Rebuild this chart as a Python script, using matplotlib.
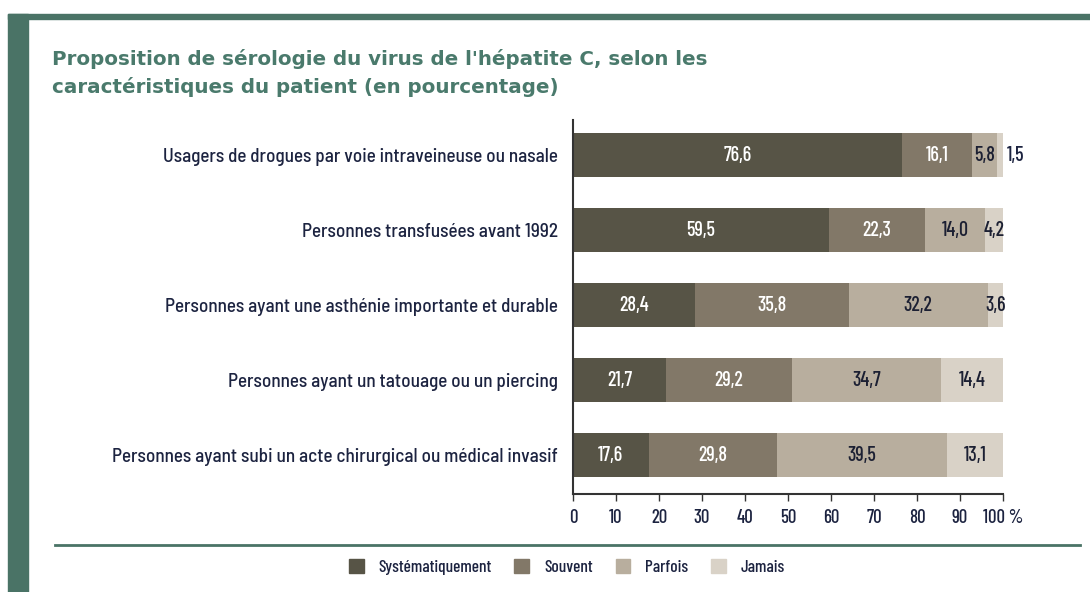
import matplotlib.pyplot as plt
import numpy as np
from matplotlib.patches import Rectangle
from matplotlib.lines import Line2D

# data
categories = [
    "Usagers de drogues par voie intraveineuse ou nasale",
    "Personnes transfusées avant 1992",
    "Personnes ayant une asthénie importante et durable",
    "Personnes ayant un tatouage ou un piercing",
    "Personnes ayant subi un acte chirurgical ou médical invasif",
]
series_names = ["Systématiquement", "Souvent", "Parfois", "Jamais"]
systematiquement = [76.6, 59.5, 28.4, 21.7, 17.6]
souvent = [16.1, 22.3, 35.8, 29.2, 29.8]
parfois = [5.8, 14.0, 32.2, 34.7, 39.5]
jamais = [1.5, 4.2, 3.6, 14.4, 13.1]
ticks = [0, 10, 20, 30, 40, 50, 60, 70, 80, 90, 100]

colors = ["#575446", "#827868", "#b8ae9e", "#d9d2c7"]
text_col = ["white", "white", "#1c2033", "#1c2033"]
navy = "#1c2340"
green = "#4a7366"
cond = ['Barlow Condensed', 'DejaVu Sans']

plt.rcParams['font.family'] = ['Barlow Semi Condensed', 'Barlow Condensed', 'DejaVu Sans']
plt.rcParams['font.weight'] = 500

fig = plt.figure(figsize=(10.9, 5.92), dpi=100)
ax = fig.add_axes([573 / 1090, 1 - 494 / 592, 430 / 1090, 374 / 592])

y = np.arange(len(categories))
left = np.zeros(len(categories))
for vals, c, tc in zip([systematiquement, souvent, parfois, jamais], colors, text_col):
    vals = np.array(vals)
    ax.barh(y, vals, left=left, height=0.59, color=c, edgecolor='none')
    for yi, l, v in zip(y, left, vals):
        lab = f"{v:.1f}".replace(".", ",")
        if v < 3:
            ax.text(100.8, yi, lab, ha='left', va='center', fontsize=14.5, color=navy, family=cond)
        else:
            ax.text(l + v / 2, yi, lab, ha='center', va='center', fontsize=14.5, color=tc, family=cond)
    left += vals

ax.set_xlim(0, 100)
ax.set_ylim(4.52, -0.467)
ax.set_yticks(y)
ax.set_yticklabels(categories, fontsize=13.8, color=navy)
ax.tick_params(axis='y', length=0, pad=11)
ax.set_xticks(ticks)
ax.set_xticklabels([str(t) for t in ticks[:-1]] + ["100 %"], fontsize=13.5, color=navy, family=cond)
ax.tick_params(axis='x', length=5, width=1, color="#333333", pad=6)
for s in ['top', 'right']:
    ax.spines[s].set_visible(False)
ax.spines['left'].set_color("#333333")
ax.spines['bottom'].set_color("#333333")
ax.spines['left'].set_linewidth(1.5)
ax.spines['bottom'].set_linewidth(1.5)

# frame decorations
fig.patches.append(Rectangle((8 / 1090, 0), 20 / 1090, 1 - 14 / 592, transform=fig.transFigure,
                             color=green, zorder=0))
fig.patches.append(Rectangle((8 / 1090, 1 - 19 / 592), 1 - 8 / 1090, 5 / 592, transform=fig.transFigure,
                             color=green, zorder=0))
fig.lines.append(Line2D([55 / 1090, 1080 / 1090], [1 - 545 / 592] * 2, transform=fig.transFigure,
                        color=green, lw=2))

fig.text(52 / 1090, 1 - 73 / 592, "Proposition de sérologie du virus de l'hépatite C, selon les\n"
         "caractéristiques du patient (en pourcentage)", fontsize=14.3, fontweight='bold',
         color="#4a7a6c", va='center', linespacing=1.55, family=['DejaVu Sans'])

handles = [Rectangle((0, 0), 1, 1, color=c) for c in colors]
fig.legend(handles, series_names, loc='center', bbox_to_anchor=(567 / 1090, 1 - 567 / 592),
           ncol=4, frameon=False, handlelength=0.86, handleheight=0.86,
           handletextpad=0.86, columnspacing=1.3, labelcolor=navy,
           prop={'family': cond, 'size': 12.5, 'weight': 500})

fig.savefig("out.png", dpi=100)
